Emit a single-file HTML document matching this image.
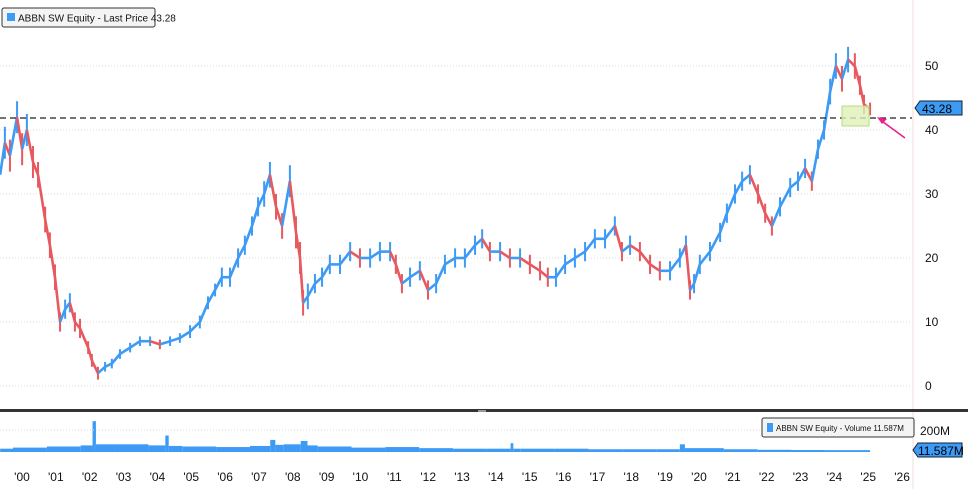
<!DOCTYPE html>
<html><head><meta charset="utf-8"><style>
body{margin:0;background:#fff;font-family:"Liberation Sans",sans-serif;}
svg text{font-family:"Liberation Sans",sans-serif;}
</style></head><body>
<svg id="chart" width="968" height="489" xmlns="http://www.w3.org/2000/svg">
<g id="grid"></g>
<g id="vol"></g>
<g id="price"></g>
<line x1="913" y1="0" x2="913" y2="489" stroke="#f3dede" stroke-width="1"/>
<line x1="0" y1="118" x2="912" y2="118" stroke="#222" stroke-width="1.3" stroke-dasharray="6,4"/>
<rect x="842" y="106" width="27" height="20" fill="#dff0b8" fill-opacity="0.8" stroke="#b8dc80"/>
<line x1="905" y1="138" x2="879" y2="119" stroke="#ee1e8c" stroke-width="1.6"/>
<path d="M877 117 L887 119 L882 124 Z" fill="#ee1e8c"/>
<g id="yaxis"></g>
<g><path d="M915 108 L920 101 L962 101 L962 115 L920 115 Z" fill="#3d9af5" stroke="#123" stroke-width="1"/><text x="922" y="113" font-size="12" fill="#000">43.28</text></g>
<g><rect x="2" y="8" width="153" height="19" rx="2" fill="#f4f4f4" stroke="#333"/><rect x="7" y="13" width="8" height="8" fill="#3d9af5"/><text x="18" y="21.5" font-size="10" fill="#111">ABBN SW Equity - Last Price 43.28</text></g>
<rect x="0" y="409" width="968" height="3" fill="#333"/>
<rect x="478" y="410" width="8" height="2" fill="#999"/>
<line x1="0" y1="430" x2="912" y2="430" stroke="#ddd" stroke-dasharray="1,2"/>
<g><rect x="762" y="418" width="152" height="19" rx="2" fill="#f4f4f4" stroke="#333"/><rect x="767" y="423" width="6" height="9" fill="#3d9af5"/><text x="776" y="431" font-size="8" fill="#111">ABBN SW Equity - Volume 11.587M</text></g>
<text x="920" y="435" font-size="12" fill="#111">200M</text>
<g><path d="M913 450 L918 443 L962 443 L962 457 L918 457 Z" fill="#3d9af5" stroke="#123"/><text x="918" y="455" font-size="12" fill="#000">11.587M</text></g>
<g id="xaxis"></g>
</svg>
<script>
const priceDates=[1999.62,1999.76,1999.91,2000.12,2000.27,2000.41,2000.59,2000.74,2000.95,2001.09,2001.24,2001.39,2001.54,2001.68,2001.83,2001.98,2002.22,2002.33,2002.51,2002.72,2002.92,2003.16,2003.46,2003.75,2004.05,2004.34,2004.64,2004.93,2005.23,2005.52,2005.76,2005.97,2006.17,2006.41,2006.65,2006.85,2007.06,2007.24,2007.42,2007.59,2007.77,2007.95,2008.18,2008.36,2008.48,2008.57,2008.71,2008.92,2009.13,2009.36,2009.66,2009.96,2010.25,2010.55,2010.84,2011.14,2011.31,2011.49,2011.73,2012.02,2012.26,2012.50,2012.76,2013.06,2013.35,2013.65,2013.86,2014.09,2014.39,2014.68,2014.98,2015.27,2015.57,2015.80,2016.04,2016.31,2016.60,2016.90,2017.19,2017.49,2017.78,2017.99,2018.23,2018.52,2018.82,2019.11,2019.41,2019.70,2019.88,2020.00,2020.12,2020.29,2020.59,2020.89,2021.09,2021.33,2021.54,2021.77,2022.01,2022.22,2022.42,2022.66,2022.96,2023.19,2023.40,2023.60,2023.78,2023.96,2024.14,2024.31,2024.49,2024.67,2024.87,2025.02,2025.14,2025.32];
const priceValues=[33,38,36,42,37,40,35,33,26,22,17,10,12,13,10,9,6,4,2,3,3.5,5,6,7,7,6.5,7,7.5,8.5,10,13,15,17,17,20,22,25,28,30,33,28,25,32,24,20,13,14,16,17,19,19,21,20,20,21,21,19,16,17,18,15,16,19,20,20,22,23,21,21,20,20,19,18,17,17,19,20,21,23,23,25,21,22,21,19,18,18,20,22,15,16,19,21,24,27,30,32,33,30,27,25,28,31,32,34,32,37,40,46,50,48,51,50,47,44,43.28];
const priceSwing=[5,5,5,5,5,5,5,4,4,4,4,3,3,3,3,3,2,2,2,1.5,1.5,1.5,1.5,1.5,1.5,1.5,1.5,1.5,2,2,2,2,3,3,3,3,3,3,4,4,4,4,5,5,5,4,4,3,3,3,3,3,3,3,3,3,3,3,3,3,3,3,3,3,3,3,3,3,3,3,3,3,3,3,3,3,3,3,3,3,3,3,3,3,3,3,3,3,3,3,3,3,3,3,3,3,3,3,3,3,3,3,3,3,3,3,3,3,4,4,4,4,4,3,3,2];
const volDates=[1999.62,2000.0,2001.0,2002.0,2002.35,2002.45,2003.0,2004.0,2004.5,2004.6,2005.0,2006.0,2007.0,2007.6,2007.75,2008.0,2008.5,2008.7,2009.0,2010.0,2011.0,2012.0,2013.0,2014.0,2014.7,2014.78,2015.0,2016.0,2017.0,2018.0,2019.0,2019.7,2019.85,2020.0,2021.0,2022.0,2023.0,2024.0,2025.32];
const volValues=[30,40,50,60,280,70,70,60,150,55,50,45,55,110,65,70,100,60,50,40,45,35,30,30,80,30,30,30,25,25,25,70,35,35,25,20,18,17];
const yTicks=[0,10,20,30,40,50];
const xTickYears=['00','01','02','03','04','05','06','07','08','09','10','11','12','13','14','15','16','17','18','19','20','21','22','23','24','25','26'];
const NS='http://www.w3.org/2000/svg';
function xOf(t){return 13+(t-2000)*33.85;}
function yOf(v){return 386-v*6.4;}
function vOf(m){return 452-m*0.11;}
function mk(tag,attrs,parent){const e=document.createElementNS(NS,tag);for(const k in attrs)e.setAttribute(k,attrs[k]);parent.appendChild(e);return e;}
const grid=document.getElementById('grid'),yaxis=document.getElementById('yaxis');
yTicks.forEach(v=>{
  const l=mk('line',{x1:0,x2:912,y1:yOf(v),y2:yOf(v),stroke:'#ddd','stroke-dasharray':'1,2'},grid);
  
  
  const t=mk('text',{x:925,y:yOf(v)+4,'font-size':12,fill:'#111'},yaxis);
  t.textContent=v;
  
  
});
const xaxis=document.getElementById('xaxis');
xTickYears.forEach((s,i)=>{
  const t=mk('text',{x:xOf(2000+i)+9,y:481,'font-size':12,fill:'#111','text-anchor':'middle'},xaxis);
  t.textContent="'"+s;
  
  
});
const price=document.getElementById('price');
for(let i=1;i<priceValues.length;i++){
  const a=priceValues[i-1],b=priceValues[i];
  const col=b>=a?'#3d9af5':'#e8595f';
  const x1=xOf(priceDates[i-1]),x2=xOf(priceDates[i]);
  const sb=priceSwing[i]/2;
  const l=mk('line',{x1:x1,y1:yOf(a),x2:x2,y2:yOf(b),stroke:col,'stroke-width':2.6},price);
  
  
  const v=mk('line',{x1:x2,y1:yOf(b+sb),x2:x2,y2:yOf(b-sb),stroke:col,'stroke-width':2},price);
  
  
}
const vol=document.getElementById('vol');
for(let i=0;i<volValues.length;i++){
  const x1=xOf(volDates[i]),x2=xOf(volDates[i+1]);
  const r=mk('rect',{x:x1,y:vOf(volValues[i]),width:Math.max(1,x2-x1),height:452-vOf(volValues[i]),fill:'#3d9af5'},vol);
  
  
}
</script>
</body></html>
